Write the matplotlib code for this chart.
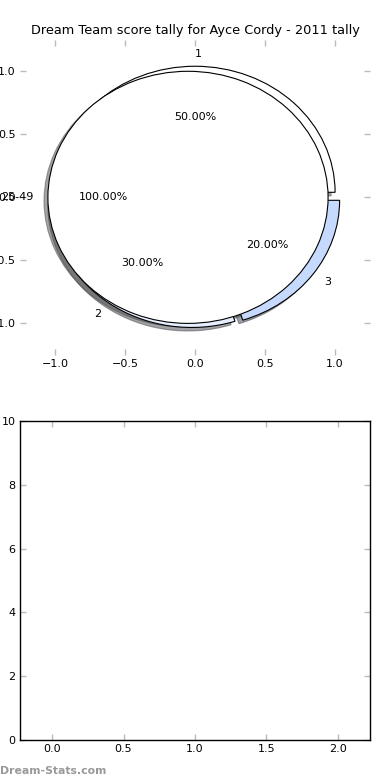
import matplotlib
matplotlib.use("Agg")
import matplotlib.pyplot as plt

title = "Dream Team score tally for Ayce Cordy - 2011 tally"

# outer ring: score buckets
score_labels = ["1", "2", "3"]
score_shares = [50, 30, 20]
score_colors = ["#ffffff", "#e6eeff", "#c6daff"]

# inner pie: age bracket
age_labels = ["25-49"]
age_shares = [100]
age_colors = ["#ffffff"]

# bottom panel (empty)
bar_xticks = [0.0, 0.5, 1.0, 1.5, 2.0]
bar_yticks = [0, 2, 4, 6, 8, 10]

plt.rcParams["font.family"] = "DejaVu Sans"
plt.rcParams["font.size"] = 8

fig = plt.figure(figsize=(3.9, 7.8), dpi=100)
ax1 = fig.add_axes([0.051, 0.545, 0.898, 0.404])
ax2 = fig.add_axes([0.051, 0.0513, 0.898, 0.4087])

wp = {"linewidth": 0.8, "edgecolor": "black"}
_, score_txt, _ = ax1.pie(score_shares, labels=score_labels, colors=score_colors,
                          autopct="%.2f%%", explode=[0.04] * len(score_shares),
                          shadow=True, wedgeprops=wp, textprops={"fontsize": 8})
ax1.pie(age_shares, labels=age_labels, colors=age_colors, autopct="%.2f%%",
        explode=[0.05] * len(age_shares), shadow=True, wedgeprops=wp,
        textprops={"fontsize": 8})
score_txt[0].set_ha("left")  # label sitting right on the top goes left-anchored
ax1.set_aspect("auto")
for s in ax1.spines.values():
    s.set_visible(False)
ax1.set_xlim(-1.25, 1.25)
ax1.set_ylim(-1.25, 1.25)
ax1.set_xticks([-1.0, -0.5, 0.0, 0.5, 1.0])
ax1.set_yticks([-1.0, -0.5, 0.0, 0.5, 1.0])
ax1.set_title(title, fontsize=9.3, pad=4)

for ax in (ax1, ax2):
    ax.tick_params(direction="in", length=4, width=1, color="#bbbbbb",
                   top=True, right=True, labelsize=8, pad=3)

ax2.set_xlim(-0.225, 2.225)
ax2.set_ylim(0, 10)
ax2.set_xticks(bar_xticks)
ax2.set_yticks(bar_yticks)
for s in ax2.spines.values():
    s.set_linewidth(1)

fig.text(0.0, 0.005, "Dream-Stats.com", color="#999999", fontsize=7.8,
         fontweight="bold", ha="left", va="bottom")

fig.savefig("out.png", dpi=100)
